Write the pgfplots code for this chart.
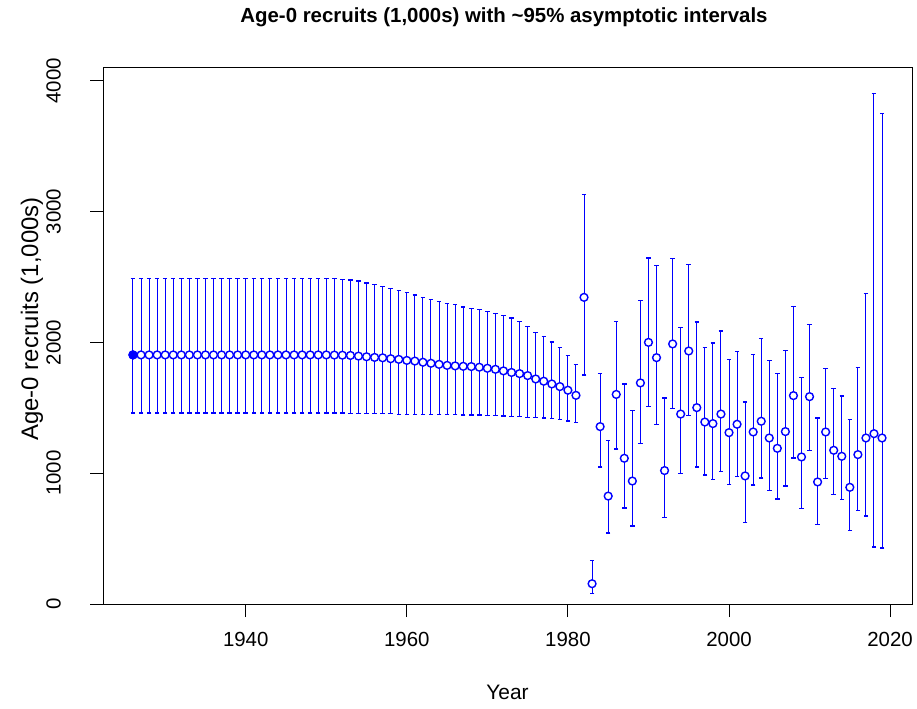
\documentclass[border=0pt]{standalone}
\usepackage{pgfplots}
\usepackage{pgfplotstable}
\usepackage{fontspec}
\setmainfont{Liberation Sans}
\usetikzlibrary{arrows.meta}
\pgfplotsset{compat=1.18}
\definecolor{rblue}{RGB}{0,0,255}

% year, estimate, lower and upper ~95% limits (1,000s)
\pgfplotstableread{
year est lo hi
1926 1904 1455 2492
1927 1904 1455 2492
1928 1904 1455 2492
1929 1904 1455 2492
1930 1904 1455 2492
1931 1904 1455 2492
1932 1904 1455 2492
1933 1904 1455 2492
1934 1904 1455 2492
1935 1904 1455 2492
1936 1904 1455 2492
1937 1904 1455 2492
1938 1904 1455 2492
1939 1904 1455 2492
1940 1904 1455 2492
1941 1904 1455 2492
1942 1904 1455 2492
1943 1904 1455 2492
1944 1904 1455 2492
1945 1904 1455 2492
1946 1904 1455 2492
1947 1904 1455 2492
1948 1904 1455 2492
1949 1904 1455 2492
1950 1904 1455 2491
1951 1903 1455 2490
1952 1902 1455 2486
1953 1900 1453 2481
1954 1895 1452 2474
1955 1890 1452 2458
1956 1885 1452 2448
1957 1882 1450 2433
1958 1875 1450 2415
1959 1870 1447 2400
1960 1862 1447 2385
1961 1857 1447 2367
1962 1848 1445 2347
1963 1840 1445 2331
1964 1832 1442 2318
1965 1824 1442 2303
1966 1820 1442 2291
1967 1817 1440 2275
1968 1815 1440 2265
1969 1810 1440 2255
1970 1802 1437 2242
1971 1794 1435 2227
1972 1782 1432 2212
1973 1770 1429 2191
1974 1761 1427 2166
1975 1746 1424 2125
1976 1720 1419 2082
1977 1703 1417 2049
1978 1682 1412 2008
1979 1662 1404 1965
1980 1634 1394 1906
1981 1595 1381 1838
1982 2344 1746 3135
1983 155 74 336
1984 1356 1043 1764
1985 825 538 1256
1986 1602 1180 2166
1987 1114 729 1686
1988 940 591 1485
1989 1690 1223 2327
1990 2000 1508 2650
1991 1883 1368 2594
1992 1020 655 1580
1993 1988 1491 2648
1994 1452 994 2120
1995 1934 1435 2599
1996 1501 1043 2161
1997 1391 982 1967
1998 1379 950 2000
1999 1452 1007 2092
2000 1310 906 1873
2001 1374 968 1937
2002 979 617 1549
2003 1315 905 1911
2004 1397 958 2034
2005 1269 864 1863
2006 1190 798 1766
2007 1318 897 1942
2008 1593 1111 2281
2009 1124 726 1733
2010 1585 1170 2143
2011 933 604 1427
2012 1315 953 1804
2013 1175 831 1649
2014 1129 793 1595
2015 892 558 1417
2016 1142 711 1812
2017 1269 668 2381
2018 1302 431 3907
2019 1269 423 3754
}\recruits

\begin{document}
\begin{tikzpicture}
\useasboundingbox (0,0) rectangle (917bp,709bp);
\begin{axis}[
    at={(103bp,105bp)}, anchor=south west,
    scale only axis,
    width=809bp, height=537bp,
    xmin=1922.28, xmax=2022.72,
    ymin=0, ymax=4105,
    xtick={1940,1960,1980,2000,2020},
    ytick={0,1000,2000,3000,4000},
    tick align=outside,
    xtick pos=bottom, ytick pos=left,
    major tick length=13bp,
    tick style={black, line width=0.9bp},
    axis line style={line width=0.9bp},
    /pgf/number format/assume math mode=true,
    /pgf/number format/1000 sep={},
    ticklabel style={font=\fontsize{20.5}{24}\selectfont, inner sep=0pt},
    xticklabel style={anchor=north, yshift=-15bp},
    yticklabel style={xshift=-29bp, rotate=90, anchor=south},
]
% confidence intervals, lower to upper limit with end caps
\addplot[
    rblue, line width=1bp,
    quiver={u=0, v=\thisrow{hi}-\thisrow{lo},
        every arrow/.append style={rblue, line width=1bp,
            {Bar[width=4.5bp,line width=1.2bp]}-{Bar[width=4.5bp,line width=1.2bp]}}},
] table[x=year, y=lo] {\recruits};
% estimates
\addplot[only marks, mark=*, mark size=3.9bp,
    mark options={draw=rblue, fill=white, line width=1.4bp}]
    table[x=year, y=est] {\recruits};
\addplot[only marks, mark=*, mark size=3.9bp,
    mark options={draw=rblue, fill=rblue, line width=1.4bp}]
    coordinates {(1926,1904)};
\end{axis}
\node[font=\bfseries\fontsize{20.5}{24}\selectfont] at (504bp,692bp)
    {Age-0 recruits (1,000s) with \textasciitilde 95\% asymptotic intervals};
\node[font=\fontsize{21}{24}\selectfont] at (507.5bp,17bp) {Year};
\node[font=\fontsize{24}{28}\selectfont, rotate=90] at (32bp,390bp)
    {Age-0 recruits (1,000s)};
\end{tikzpicture}
\end{document}
